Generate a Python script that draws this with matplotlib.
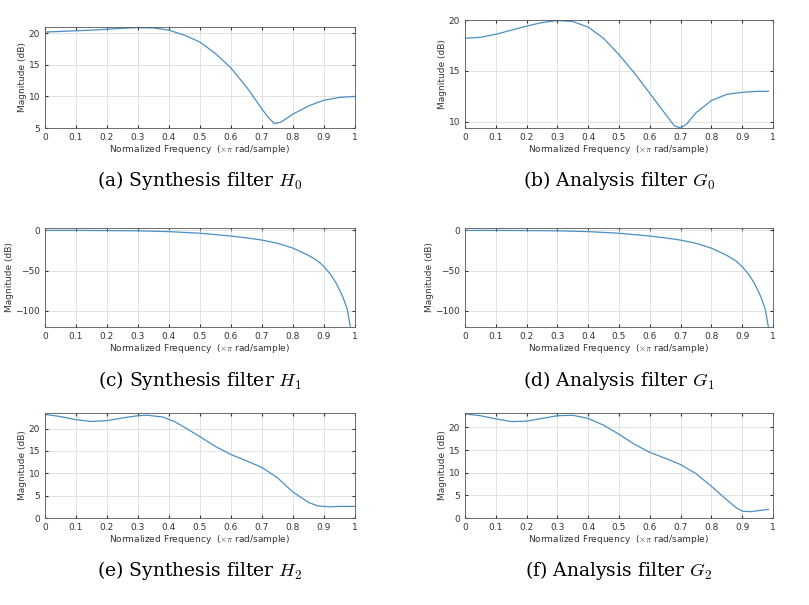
import matplotlib
matplotlib.use("Agg")
import matplotlib.pyplot as plt

plt.rcParams['mathtext.fontset'] = 'cm'

xa = [0,0.05,0.1,0.15,0.2,0.25,0.3,0.35,0.4,0.45,0.5,0.55,0.6,0.65,0.7,0.72,0.74,0.76,0.8,0.85,0.9,0.95,1.0]
ya = [20.2,20.3,20.4,20.5,20.65,20.8,20.9,20.85,20.5,19.7,18.6,16.8,14.5,11.5,8.0,6.7,5.7,5.9,7.2,8.5,9.4,9.85,10.0]
xb = [0,0.05,0.1,0.15,0.2,0.25,0.3,0.35,0.4,0.45,0.5,0.55,0.6,0.65,0.68,0.7,0.72,0.75,0.8,0.85,0.9,0.95,0.985]
yb = [18.2,18.3,18.6,19.0,19.4,19.75,19.95,19.85,19.3,18.2,16.6,14.8,12.8,10.8,9.6,9.4,9.8,10.9,12.1,12.7,12.9,13.0,13.0]
xc = [0,0.1,0.2,0.3,0.4,0.5,0.6,0.65,0.7,0.75,0.8,0.85,0.88,0.9,0.92,0.94,0.96,0.975,0.985]
yc = [0,0,-0.2,-0.5,-1.5,-3.5,-7,-9.3,-12,-16,-22,-31,-38,-45,-54,-66,-82,-98,-120]
xd = [0,0.1,0.2,0.3,0.4,0.5,0.6,0.65,0.7,0.75,0.8,0.85,0.88,0.9,0.92,0.94,0.96,0.975,0.985]
yd = [0,0,-0.2,-0.5,-1.5,-3.5,-7,-9.3,-12,-16,-22,-31,-38,-45,-54,-66,-82,-98,-120]
xe = [0,0.05,0.1,0.15,0.2,0.25,0.3,0.33,0.38,0.42,0.45,0.5,0.55,0.6,0.65,0.7,0.75,0.8,0.85,0.88,0.92,0.95,1.0]
ye = [23.2,22.7,22.0,21.6,21.8,22.4,22.9,23.0,22.6,21.5,20.3,18.2,16.0,14.2,12.8,11.3,9.0,5.8,3.5,2.7,2.5,2.6,2.6]
xf = [0,0.05,0.1,0.15,0.2,0.25,0.3,0.35,0.4,0.45,0.5,0.55,0.6,0.65,0.7,0.75,0.8,0.85,0.88,0.9,0.93,0.96,0.985]
yf = [23,22.6,21.9,21.3,21.4,22,22.6,22.7,22,20.5,18.5,16.3,14.5,13.2,11.8,9.8,7,4,2.3,1.5,1.4,1.7,1.9]

captions = ["(a) Synthesis filter $H_0$", "(b) Analysis filter $G_0$",
            "(c) Synthesis filter $H_1$", "(d) Analysis filter $G_1$",
            "(e) Synthesis filter $H_2$", "(f) Analysis filter $G_2$"]

panels = [
    (xa, ya, (5, 21), [5, 10, 15, 20], [45, 27, 310, 101], 180),
    (xb, yb, (9.4, 20), [10, 15, 20], [465, 20, 308, 108], 180),
    (xc, yc, (-120, 3), [-100, -50, 0], [45, 228, 310, 99], 380),
    (xd, yd, (-120, 3), [-100, -50, 0], [465, 228, 308, 99], 380),
    (xe, ye, (0, 23.5), [0, 5, 10, 15, 20], [45, 413, 310, 105], 570),
    (xf, yf, (0, 23.2), [0, 5, 10, 15, 20], [465, 413, 308, 105], 570),
]

W, H = 809, 605
fig = plt.figure(figsize=(W/100, H/100), dpi=100)
for (x, y, yl, yt, (l, t, w, h), cy), cap in zip(panels, captions):
    ax = fig.add_axes([l/W, 1-(t+h)/H, w/W, h/H])
    ax.plot(x, y, color='#4a90c2', lw=0.9)
    ax.set_xlim(0, 1)
    ax.set_ylim(*yl)
    ax.set_yticks(yt)
    ax.set_xticks([i/10 for i in range(11)])
    ax.set_xticklabels(['0'] + [f'{i/10:.1f}' for i in range(1, 10)] + ['1'])
    ax.grid(True, color='#dddddd', lw=0.6)
    ax.tick_params(labelsize=6.5, length=2, colors='#333333', direction='in', top=True, right=True)
    for s in ax.spines.values():
        s.set_color('#555555'); s.set_linewidth(0.6)
    ax.set_xlabel(r'Normalized Frequency  ($\times\pi$ rad/sample)', fontsize=6.5, color='#333333', labelpad=1)
    ax.set_ylabel('Magnitude (dB)', fontsize=6.5, color='#333333', labelpad=1)
    fig.text((l + w/2)/W, 1 - cy/H, cap, ha='center', va='center',
             fontsize=13.5, family='DejaVu Serif', math_fontfamily='cm')
fig.savefig('out.png', dpi=100, facecolor='white')
